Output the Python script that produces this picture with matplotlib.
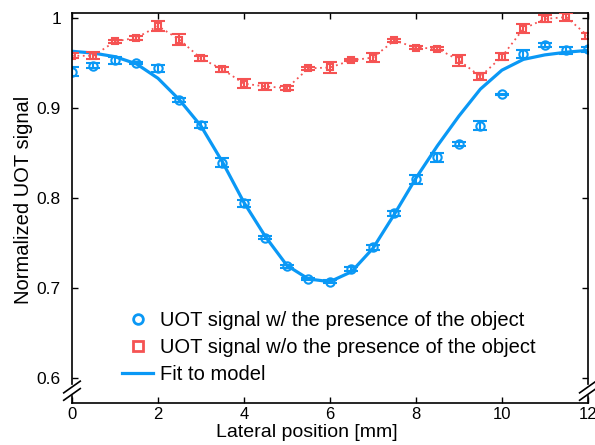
import matplotlib
matplotlib.use("Agg")
import matplotlib.pyplot as plt
from matplotlib.lines import Line2D

plt.rcParams['font.family'] = ['Liberation Sans', 'DejaVu Sans']

# Lateral scan positions [mm]
position = [0.0, 0.5, 1.0, 1.5, 2.0, 2.5, 3.0, 3.5, 4.0, 4.5, 5.0, 5.5, 6.0,
            6.5, 7.0, 7.5, 8.0, 8.5, 9.0, 9.5, 10.0, 10.5, 11.0, 11.5, 12.0]

# UOT signal with the object present
with_obj = [0.940, 0.947, 0.953, 0.950, 0.944, 0.909, 0.881, 0.839, 0.794,
            0.756, 0.724, 0.710, 0.707, 0.721, 0.745, 0.783, 0.821, 0.845,
            0.860, 0.880, 0.915, 0.960, 0.970, 0.964, 0.965]
with_obj_err = [0.005, 0.003, 0.004, 0.001, 0.004, 0.002, 0.003, 0.005, 0.004,
                0.002, 0.002, 0.001, 0.002, 0.002, 0.003, 0.003, 0.005, 0.005,
                0.002, 0.005, 0.001, 0.004, 0.002, 0.004, 0.003]

# UOT signal without the object
without_obj = [0.958, 0.958, 0.974, 0.978, 0.991, 0.976, 0.955, 0.943, 0.927,
               0.924, 0.922, 0.944, 0.945, 0.953, 0.956, 0.975, 0.967, 0.966,
               0.953, 0.935, 0.957, 0.988, 0.999, 1.001, 0.980]
without_obj_err = [0.003, 0.004, 0.002, 0.002, 0.006, 0.006, 0.003, 0.003,
                   0.005, 0.004, 0.002, 0.002, 0.006, 0.001, 0.005, 0.002,
                   0.002, 0.002, 0.006, 0.004, 0.004, 0.005, 0.004, 0.004,
                   0.003]

# Model fit evaluated at the scan positions
fit_curve = [0.963, 0.961, 0.957, 0.949, 0.933, 0.909, 0.880, 0.840, 0.795,
             0.757, 0.725, 0.710, 0.707, 0.718, 0.744, 0.782, 0.822, 0.858,
             0.891, 0.921, 0.942, 0.954, 0.959, 0.962, 0.964]

x_ticks = [0, 2, 4, 6, 8, 10, 12]
y_ticks = [0.6, 0.7, 0.8, 0.9, 1.0]
y_tick_labels = ['0.6', '0.7', '0.8', '0.9', '1']

BLUE = '#0a98f5'
RED = '#f55353'

fig = plt.figure(figsize=(5.95, 4.45), dpi=100)
ax = fig.add_axes([0.121, 0.0944, 0.867, 0.8765])

ax.plot(position, fit_curve, color=BLUE, lw=2.3, zorder=2,
        solid_joinstyle='round')
ax.errorbar(position, with_obj, yerr=with_obj_err, fmt='o', color=BLUE,
            mfc='none', mec=BLUE, ms=6, mew=1.5, elinewidth=1.5,
            capsize=5, capthick=1.5, zorder=3)
ax.plot(position, without_obj, color=RED, lw=1.3, ls=(0, (1, 2)), zorder=3)
ax.errorbar(position, without_obj, yerr=without_obj_err, fmt='s', color=RED,
            mfc='none', mec=RED, ms=5, mew=1.5, elinewidth=1.5,
            capsize=5, capthick=1.5, zorder=4)

ax.set_xlim(0, 12)
ax.set_ylim(0.5722, 1.0056)
ax.set_xticks(x_ticks)
ax.set_yticks(y_ticks)
ax.set_yticklabels(y_tick_labels)
ax.tick_params(direction='in', length=4, width=1, labelsize=12.5,
               top=True, right=True)
ax.tick_params(axis='y', pad=8)
ax.tick_params(axis='x', pad=3, labelsize=12)

for side in ('top', 'bottom'):
    ax.spines[side].set_linewidth(1.2)

# Broken y axis on both sides
ax.spines['left'].set_visible(False)
ax.spines['right'].set_visible(False)
gap_hi, gap_lo = 0.049, 0.018
for xs in (0.0, 1.0):
    ax.plot([xs, xs], [gap_hi, 1.0], transform=ax.transAxes, color='black',
            lw=1.2, clip_on=False, zorder=5)
    ax.plot([xs, xs], [0.0, gap_lo], transform=ax.transAxes, color='black',
            lw=1.2, clip_on=False, zorder=5)
    for yc in (0.041, 0.022):
        ax.plot([xs - 0.016, xs + 0.016], [yc - 0.015, yc + 0.015],
                transform=ax.transAxes, color='black', lw=1.2,
                clip_on=False, zorder=5)

ax.set_xlabel('Lateral position [mm]', fontsize=14)
ax.set_ylabel('Normalized UOT signal', fontsize=14.5)
ax.xaxis.set_label_coords(0.455, -0.0545)
ax.yaxis.set_label_coords(-0.0756, 0.52)

handles = [
    Line2D([], [], ls='none', marker='o', color=BLUE, mfc='none', ms=7,
           mew=2),
    Line2D([], [], ls='none', marker='s', color=RED, mfc='none', ms=6.5,
           mew=2),
    Line2D([], [], color=BLUE, lw=2.3),
]
labels = ['UOT signal w/ the presence of the object',
          'UOT signal w/o the presence of the object',
          'Fit to model']
ax.legend(handles, labels, loc='upper left', bbox_to_anchor=(0.097, 0.236),
          frameon=False, fontsize=14.5, borderpad=0, borderaxespad=0,
          handlelength=1.54, handletextpad=0.35, labelspacing=0.39)

fig.savefig('out.png', dpi=100)
